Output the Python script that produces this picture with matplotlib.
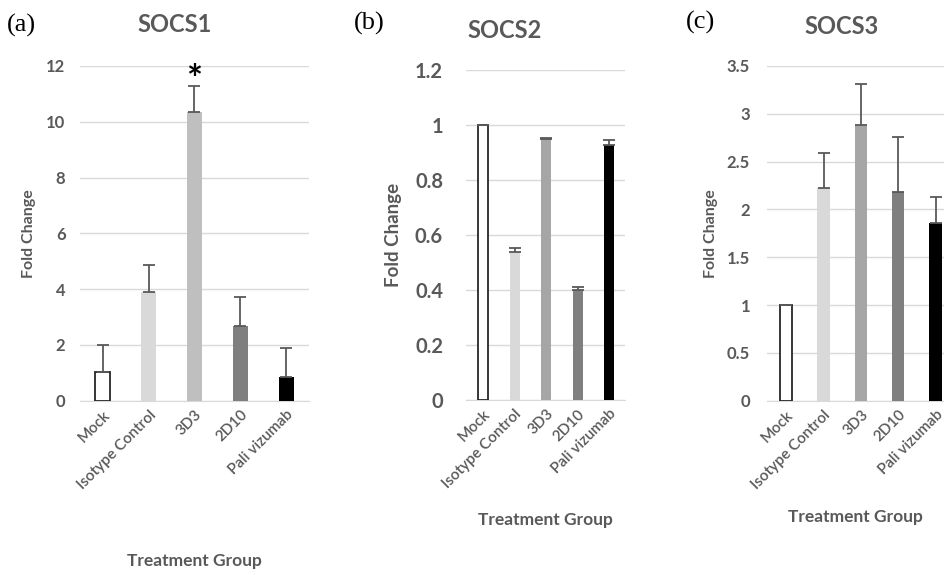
import matplotlib
matplotlib.use("Agg")
import matplotlib.pyplot as plt

categories = ["Mock", "Isotype Control", "3D3", "2D10", "Pali vizumab"]

socs1_vals = [1.04, 3.91, 10.34, 2.68, 0.86]
socs1_err = [0.96, 0.96, 0.96, 1.03, 1.02]
socs2_vals = [1.0, 0.54, 0.949, 0.40, 0.927]
socs2_err = [0.0, 0.011, 0.004, 0.01, 0.017]
socs3_vals = [1.0, 2.22, 2.88, 2.18, 1.855]
socs3_err = [0.0, 0.37, 0.43, 0.58, 0.28]

colors_a = ["white", "#d9d9d9", "#bfbfbf", "#7f7f7f", "black"]
colors_bc = ["white", "#d9d9d9", "#a6a6a6", "#7f7f7f", "black"]

plt.rcParams['font.family'] = ['Lato', 'DejaVu Sans']
gray = "#595959"

fig = plt.figure(figsize=(9.45, 5.75), dpi=100)

W, H = 945, 575
def axrect(l, r, top, bot):
    return [l / W, 1 - bot / H, (r - l) / W, (bot - top) / H]

panels = [
    dict(rect=axrect(80, 309, 66, 400.7), vals=socs1_vals, err=socs1_err, colors=colors_a,
         ylim=(0, 12), yticks=[0, 2, 4, 6, 8, 10, 12], yticklabels=["0", "2", "4", "6", "8", "10", "12"],
         xlim=(-0.5, 4.5), width=0.33, title="SOCS1", title_xy=(175, 25), tag="(a)", tag_xy=(7, 25),
         ylab_x=(29 - 80) / 229, ytick_fs=12, ytick_pad=10.5, ylab_fs=11.5, xlab_y=(400.7 - 561) / 334.7),
    dict(rect=axrect(466, 625, 70, 400), vals=socs2_vals, err=socs2_err, colors=colors_bc,
         ylim=(0, 1.2), yticks=[0, 0.2, 0.4, 0.6, 0.8, 1.0, 1.2],
         yticklabels=["0", "0.2", "0.4", "0.6", "0.8", "1", "1.2"],
         xlim=(-0.54, 4.5), width=0.32, title="SOCS2", title_xy=(505, 30), tag="(b)", tag_xy=(354, 23),
         ylab_x=(393 - 466) / 159, ytick_fs=14.5, ytick_pad=16.5, ylab_fs=13.5, xlab_y=(400 - 520) / 330),
    dict(rect=axrect(766.7, 945, 66, 400.7), vals=socs3_vals, err=socs3_err, colors=colors_bc,
         ylim=(0, 3.5), yticks=[0, 0.5, 1, 1.5, 2, 2.5, 3, 3.5],
         yticklabels=["0", "0.5", "1", "1.5", "2", "2.5", "3", "3.5"],
         xlim=(-0.52, 4.25), width=0.33, title="SOCS3", title_xy=(842, 27), tag="(c)", tag_xy=(686, 22),
         ylab_x=(711 - 766.7) / 178.3, ytick_fs=12, ytick_pad=12, ylab_fs=11.5, xlab_y=(400.7 - 517) / 334.7),
]

axes = []
for p in panels:
    ax = fig.add_axes(p["rect"])
    axes.append(ax)
    x = list(range(len(categories)))
    ax.bar(x, p["vals"], width=p["width"], color=p["colors"], edgecolor=["#262626", "none", "none", "none", "none"],
           linewidth=1.3, zorder=3)
    ax.errorbar(x, p["vals"], yerr=[[0] * len(x), p["err"]], fmt="none", ecolor=gray,
                elinewidth=1.3, capsize=4, capthick=1.3, zorder=4)
    ax.set_xlim(*p["xlim"])
    ax.set_ylim(*p["ylim"])
    ax.set_yticks(p["yticks"])
    ax.set_yticklabels(p["yticklabels"], fontsize=p["ytick_fs"], fontweight="bold", color=gray)
    ax.set_xticks(x)
    ax.set_xticklabels(categories, rotation=45, ha="right", rotation_mode="anchor",
                       fontsize=11, color=gray, fontweight="semibold")
    ax.tick_params(axis="x", length=0, pad=5)
    ax.tick_params(axis="y", length=0, pad=p["ytick_pad"])
    ax.grid(axis="y", color="#d9d9d9", linewidth=1.0, zorder=0)
    for s in ["top", "right", "left"]:
        ax.spines[s].set_visible(False)
    ax.spines["bottom"].set_color("#d9d9d9")
    ax.spines["bottom"].set_zorder(1)
    ax.set_ylabel("Fold Change", fontsize=p["ylab_fs"], fontweight="bold", color=gray, va="center")
    ax.yaxis.set_label_coords(p["ylab_x"], 0.5)
    ax.set_xlabel("Treatment Group", fontsize=12.5, fontweight="bold", color=gray, va="center")
    ax.xaxis.set_label_coords(0.5, p["xlab_y"])
    fig.text(p["title_xy"][0] / W, 1 - p["title_xy"][1] / H, p["title"], fontsize=17,
             fontweight="bold", color=gray, ha="center", va="center")
    fig.text(p["tag_xy"][0] / W, 1 - p["tag_xy"][1] / H, p["tag"], fontsize=19,
             family="Liberation Serif", color="black", ha="left", va="center")

axes[0].text(2, 11.45, "*", fontsize=27, fontweight="bold", color="black", ha="center", va="center")

fig.savefig("out.png", dpi=100)
